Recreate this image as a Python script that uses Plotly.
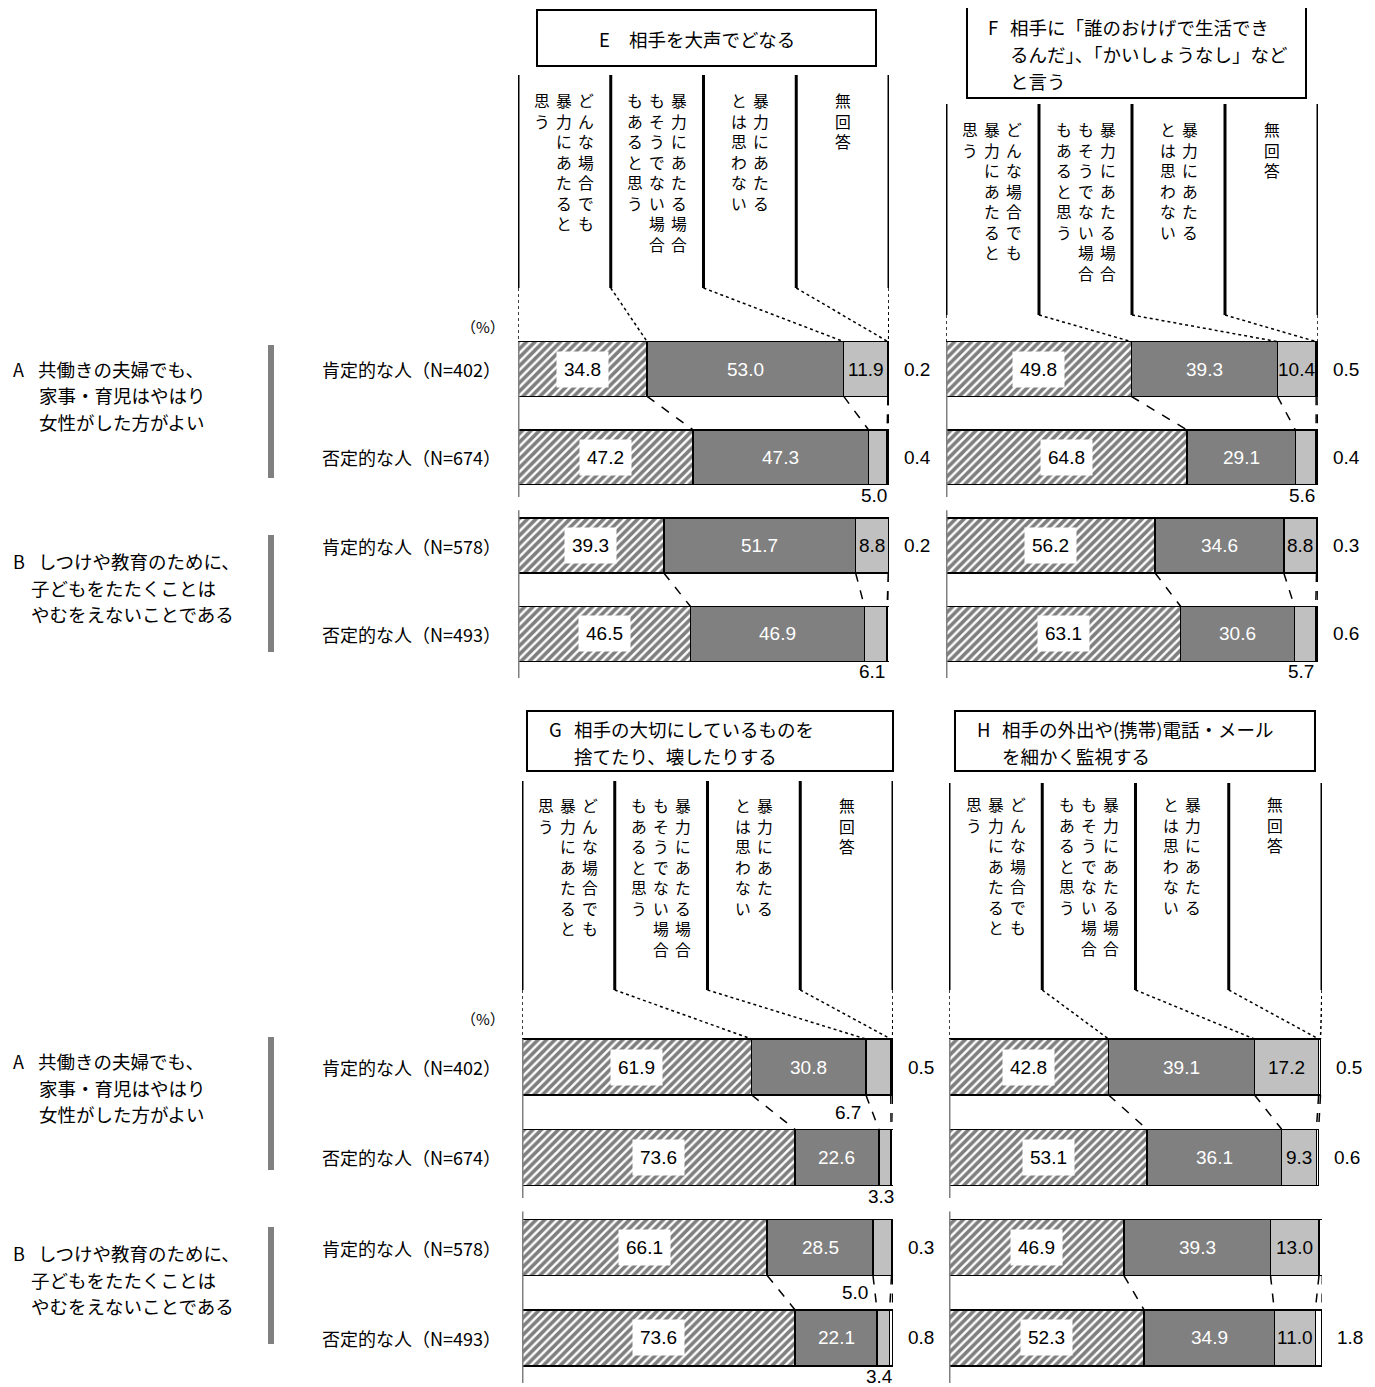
import plotly.graph_objects as go

OFF = 8  # the page body margin shifts the plot by 8px
W, H = 1375 - OFF, 1387 - OFF

rows = ["肯定的な人（N=402）", "否定的な人（N=674）", "肯定的な人（N=578）", "否定的な人（N=493）"]
answers = ["どんな場合でも暴力にあたると思う", "暴力にあたる場合もそうでない場合もあると思う",
           "暴力にあたるとは思わない", "無回答"]
# header text of each answer column, split in vertical lines (read right to left)
answer_lines = [
    ["どんな場合でも", "暴力にあたると", "思う"],
    ["暴力にあたる場合", "もそうでない場合", "もあると思う"],
    ["暴力にあたる", "とは思わない"],
    ["無回答"],
]
question_a = ["共働きの夫婦でも、", "家事・育児はやはり", "女性がした方がよい"]
question_b = ["しつけや教育のために、", "子どもをたたくことは", "やむをえないことである"]

e_title = ["相手を大声でどなる"]
f_title = ["相手に「誰のおけげで生活でき", "るんだ」、「かいしょうなし」など", "と言う"]
g_title = ["相手の大切にしているものを", "捨てたり、壊したりする"]
h_title = ["相手の外出や(携帯)電話・メール", "を細かく監視する"]

# values per row: A+, A-, B+, B-
e_always = [34.8, 47.2, 39.3, 46.5]
e_depends = [53.0, 47.3, 51.7, 46.9]
e_never = [11.9, 5.0, 8.8, 6.1]
e_na = [0.2, 0.4, 0.2, 0.6]

f_always = [49.8, 64.8, 56.2, 63.1]
f_depends = [39.3, 29.1, 34.6, 30.6]
f_never = [10.4, 5.6, 8.8, 5.7]
f_na = [0.5, 0.4, 0.3, 0.6]

g_always = [61.9, 73.6, 66.1, 73.6]
g_depends = [30.8, 22.6, 28.5, 22.1]
g_never = [6.7, 3.3, 5.0, 3.4]
g_na = [0.5, 0.6, 0.3, 0.8]

h_always = [42.8, 53.1, 46.9, 52.3]
h_depends = [39.1, 36.1, 39.3, 34.9]
h_never = [17.2, 9.3, 13.0, 11.0]
h_na = [0.5, 0.6, 0.9, 1.8]

JP = "Noto Sans CJK JP"
NUM = "Liberation Sans, Arial"
BAR_W = 0.62
seg_colors = ["white", "#808080", "#c0c0c0", "white"]
head_div = [0, 25, 50, 75, 100]

# pixel layout: row 0 centre and px per row for each half
half = {"y": (369.0, 88.3), "y2": (1067.0, 90.3)}


def px(v):
    return (v - OFF) / W


def py(v):
    return 1 - (v - OFF) / H


def ypx(ya, r):
    base, step = half[ya]
    return base + r * step


panels = [
    dict(key="E", title=e_title, vals=[e_always, e_depends, e_never, e_na], xa="x", ya="y",
         xdom=(518, 889), box=(537, 10, 876, 66), letter_x=597, text_x=627, text_y=39,
         head=(75, 288), head_text=87),
    dict(key="F", title=f_title, vals=[f_always, f_depends, f_never, f_na], xa="x2", ya="y",
         xdom=(946, 1318), box=(967, 7, 1306, 98), letter_x=986, text_x=1008, text_y=27,
         head=(104, 315), head_text=116),
    dict(key="G", title=g_title, vals=[g_always, g_depends, g_never, g_na], xa="x3", ya="y2",
         xdom=(522, 893), box=(527, 711, 893, 771), letter_x=547, text_x=572, text_y=729,
         head=(781, 990), head_text=792),
    dict(key="H", title=h_title, vals=[h_always, h_depends, h_never, h_na], xa="x4", ya="y2",
         xdom=(949, 1322), box=(955, 711, 1315, 771), letter_x=975, text_x=1000, text_y=729,
         head=(783, 990), head_text=791),
]
small_left = {("G", 0), ("G", 2)}

fig = go.Figure()
shapes = []
ann = []


def label(x, y, xref, yref, text, size=19, color="black", family=NUM, **kw):
    d = dict(x=x, y=y, xref=xref, yref=yref, text=text, showarrow=False,
             xanchor="center", yanchor="middle", font=dict(family=family, size=size, color=color))
    d.update(kw)
    ann.append(d)


for p in panels:
    xa, ya = p["xa"], p["ya"]
    for k, vals in enumerate(p["vals"]):
        marker = dict(color=seg_colors[k], line=dict(color="black", width=1.5))
        if k == 0:
            marker["pattern"] = dict(shape="/", fgcolor="black", bgcolor="white", size=6, solidity=0.6)
        fig.add_trace(go.Bar(y=list(range(4)), x=vals, orientation="h", width=BAR_W,
                             marker=marker, name=answers[k], xaxis=xa, yaxis=ya,
                             showlegend=False))

    cums = []
    for r in range(4):
        c, acc = [], 0
        for k in range(4):
            acc += p["vals"][k][r]
            c.append(acc)
        cums.append(c)

    # value labels
    for r in range(4):
        v1, v2, v3, v4 = (p["vals"][k][r] for k in range(4))
        c = cums[r]
        label(v1 / 2, r, xa, ya, f"{v1:.1f}", bgcolor="white", borderpad=7)
        label(c[0] + v2 / 2, r, xa, ya, f"{v2:.1f}", color="white")
        if v3 >= 8:
            label(c[1] + v3 / 2, r, xa, ya, f"{v3:.1f}")
        elif (p["key"], r) in small_left:
            label(c[1], r + 0.5, xa, ya, f"{v3:.1f}", xanchor="right", xshift=-3)
        else:
            label(c[1] + v3 / 2, r + 0.43, xa, ya, f"{v3:.1f}", xshift=-4)
        label(c[3], r, xa, ya, f"{v4:.1f}", xanchor="left", xshift=13)

    # dashed connectors between bar pairs
    for r in (0, 2):
        for k in range(4):
            shapes.append(dict(type="line", xref=xa, yref=ya, x0=cums[r][k], x1=cums[r + 1][k],
                               y0=r + BAR_W / 2, y1=r + 1 - BAR_W / 2,
                               line=dict(color="black", width=1.5, dash="dash")))

    # gray axis lines
    for y0, y1 in ((-BAR_W / 2, 1.45), (1.6, 3.5)):
        shapes.append(dict(type="line", xref=xa, yref=ya, x0=0, x1=0, y0=y0, y1=y1,
                           line=dict(color="#808080", width=3), layer="above"))

    # header dividers and dotted connectors to first bar
    top_t, top_b = p["head"]
    bar_top = py(ypx(ya, -BAR_W / 2))
    targets = [0] + cums[0]
    for k, d in enumerate(head_div):
        shapes.append(dict(type="line", xref=xa, yref="paper", x0=d, x1=d, y0=py(top_t), y1=py(top_b),
                           line=dict(color="black", width=3)))
        shapes.append(dict(type="line", xref=xa, yref="paper", x0=d, x1=targets[k], y0=py(top_b),
                           y1=bar_top, line=dict(color="black", width=1.5, dash="dot")))

    # vertical header text
    for k, lines in enumerate(answer_lines):
        cx = (head_div[k] + head_div[k + 1]) / 2
        n = len(lines)
        for i, line in enumerate(lines):
            label(cx, py(p["head_text"]), xa, "paper", "<br>".join(line), size=15.8, family=JP,
                  yanchor="top", xshift=(n - 1) / 2 * 22 - i * 22)

    # title box
    bx0, by0, bx1, by1 = p["box"]
    shapes.append(dict(type="rect", xref="paper", yref="paper", x0=px(bx0), x1=px(bx1),
                       y0=py(by0), y1=py(by1), line=dict(color="black", width=2)))
    label(px(p["letter_x"]), py(p["text_y"]), "paper", "paper", p["key"], size=18.5, family=JP,
          xanchor="left")
    for i, line in enumerate(p["title"]):
        label(px(p["text_x"]), py(p["text_y"] + i * 27), "paper", "paper", line, size=18.5,
              family=JP, xanchor="left")

# left side texts for both halves
for ya, dy in (("y", 0), ("y2", 692)):
    for r, lab in enumerate(rows):
        label(px(503), r, "paper", ya, lab, size=18, family=JP, xanchor="right")
    label(px(483), py(326 + dy), "paper", "paper", "（%）", size=15, family=JP)
    for letter, lines, y0, indent in (("A", question_a, 369, 37), ("B", question_b, 561, 29)):
        label(px(11), py(y0 + dy), "paper", "paper", letter, size=18, family=JP, xanchor="left")
        for i, line in enumerate(lines):
            label(px(36 if i == 0 else indent), py(y0 + dy + i * 26.5), "paper", "paper", line,
                  size=18.5, family=JP, xanchor="left")
    for yt, yb in ((345, 478), (535, 652)):
        shapes.append(dict(type="rect", xref="paper", yref="paper", x0=px(268), x1=px(274),
                           y0=py(yt + dy), y1=py(yb + dy), fillcolor="#808080", line=dict(width=0)))

layout = dict(width=W, height=H, margin=dict(l=0, r=0, t=0, b=0), barmode="stack",
              plot_bgcolor="white", paper_bgcolor="white", showlegend=False,
              shapes=shapes, annotations=ann)
for p in panels:
    name = "xaxis" if p["xa"] == "x" else "xaxis" + p["xa"][1:]
    layout[name] = dict(domain=[px(p["xdom"][0]), px(p["xdom"][1])], range=[0, 100], visible=False,
                        anchor=p["ya"], fixedrange=True)
for ya in ("y", "y2"):
    name = "yaxis" if ya == "y" else "yaxis2"
    layout[name] = dict(domain=[py(ypx(ya, 3.5)), py(ypx(ya, -0.5))], range=[3.5, -0.5],
                        visible=False, anchor="x" if ya == "y" else "x3", fixedrange=True)
fig.update_layout(**layout)

fig.write_html("out.html")
